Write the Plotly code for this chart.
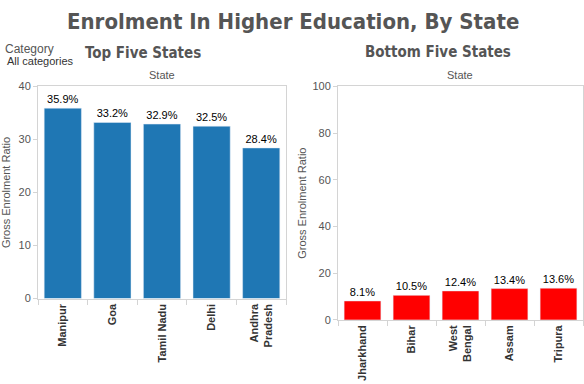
import plotly.graph_objects as go

top_states = ["Manipur", "Goa", "Tamil Nadu", "Delhi", "Andhra Pradesh"]
top_labels = ["Manipur", "Goa", "Tamil Nadu", "Delhi", "Andhra<br>Pradesh"]
top_values = [35.9, 33.2, 32.9, 32.5, 28.4]

bottom_states = ["Jharkhand", "Bihar", "West Bengal", "Assam", "Tripura"]
bottom_labels = ["Jharkhand", "Bihar", "West<br>Bengal", "Assam", "Tripura"]
bottom_values = [8.1, 10.5, 12.4, 13.4, 13.6]

W, H = 584, 384
def px(x): return x / W
def py(y): return 1 - y / H

FONT = "Liberation Sans, Arial, sans-serif"
TFONT = "DejaVu Sans Condensed, DejaVu Sans, sans-serif"
FRAME = "#d4d4d4"

fig = go.Figure()
fig.add_trace(go.Bar(x=top_states, y=top_values, marker_color="#1f77b4", width=0.75,
                     text=[f"{v:.1f}%" for v in top_values], textposition="outside",
                     textfont=dict(size=11, color="#000", family=FONT),
                     cliponaxis=False, xaxis="x", yaxis="y", showlegend=False))
fig.add_trace(go.Bar(x=bottom_states, y=bottom_values, marker_color="#ff0000", width=0.75,
                     text=[f"{v:.1f}%" for v in bottom_values], textposition="outside",
                     textfont=dict(size=11, color="#000", family=FONT),
                     cliponaxis=False, xaxis="x2", yaxis="y2", showlegend=False))

xcommon = dict(type="category", showgrid=False, showline=True, linecolor=FRAME, mirror=True,
               ticks="outside", tickson="boundaries", ticklen=5, tickcolor=FRAME,
               tickangle=-90, tickfont=dict(size=11, color="#333", family=FONT, weight="bold"),
               range=[-0.5, 4.5], zeroline=False)
ycommon = dict(showgrid=False, showline=True, linecolor=FRAME, mirror=True, zeroline=False,
               ticks="outside", ticklen=4, tickcolor=FRAME,
               tickfont=dict(size=11, color="#555", family=FONT))

fig.update_layout(
    width=W, height=H, margin=dict(l=0, r=0, t=0, b=0),
    paper_bgcolor="white", plot_bgcolor="white",
    bargap=0.25,
    xaxis=dict(**xcommon, domain=[px(38), px(286)], anchor="y",
               tickvals=top_states, ticktext=top_labels),
    yaxis=dict(**ycommon, domain=[py(302), py(83)], anchor="x", range=[0, 40], dtick=10,
               title=dict(text="Gross Enrolment Ratio", standoff=6,
                          font=dict(size=11, color="#555", family=FONT))),
    xaxis2=dict(**xcommon, domain=[px(338), px(583)], anchor="y2",
                tickvals=bottom_states, ticktext=bottom_labels),
    yaxis2=dict(**ycommon, domain=[py(324), py(83)], anchor="x2", range=[0, 100], dtick=20,
                title=dict(text="Gross Enrolment Ratio", standoff=3,
                           font=dict(size=11, color="#555", family=FONT))),
    annotations=[
        dict(text="<b>Enrolment In Higher Education, By State</b>", x=px(293), y=py(16),
             xref="paper", yref="paper", showarrow=False, xanchor="center", yanchor="middle",
             font=dict(size=22, color="#555", family=TFONT)),
        dict(text="<b>Top Five States</b>", x=px(143), y=py(48), xref="paper", yref="paper",
             showarrow=False, xanchor="center", yanchor="middle",
             font=dict(size=15, color="#555", family=TFONT)),
        dict(text="<b>Bottom Five States</b>", x=px(438), y=py(47), xref="paper", yref="paper",
             showarrow=False, xanchor="center", yanchor="middle",
             font=dict(size=15, color="#555", family=TFONT)),
        dict(text="State", x=px(162), y=py(71), xref="paper", yref="paper", showarrow=False,
             xanchor="center", yanchor="middle", font=dict(size=11, color="#555", family=FONT)),
        dict(text="State", x=px(460), y=py(71), xref="paper", yref="paper", showarrow=False,
             xanchor="center", yanchor="middle", font=dict(size=11, color="#555", family=FONT)),
        dict(text="Category", x=px(3), y=py(44), xref="paper", yref="paper", showarrow=False,
             xanchor="left", yanchor="middle", font=dict(size=12, color="#555", family=FONT)),
        dict(text="All categories", x=px(5), y=py(57), xref="paper", yref="paper", showarrow=False,
             xanchor="left", yanchor="middle", font=dict(size=11, color="#333", family=FONT)),
    ],
)

fig.write_html("out.html", config={"displayModeBar": False},
               post_script="document.body.style.margin='0';")
